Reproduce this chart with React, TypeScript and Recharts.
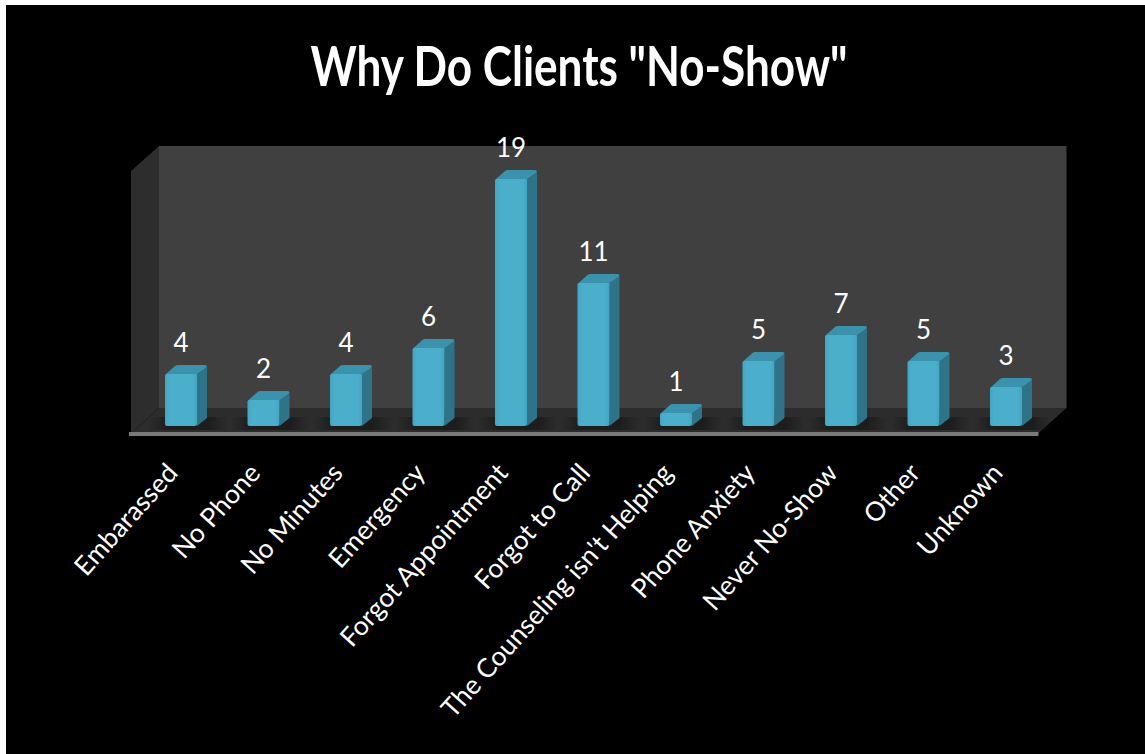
import { Bar, BarChart, LabelList, XAxis, YAxis, usePlotArea } from "recharts";

const reasons = [
  "Embarassed",
  "No Phone",
  "No Minutes",
  "Emergency",
  "Forgot Appointment",
  "Forgot to Call",
  "The Counseling isn't Helping",
  "Phone Anxiety",
  "Never No-Show",
  "Other",
  "Unknown",
];
const clientCounts = [4, 2, 4, 6, 19, 11, 1, 5, 7, 5, 3];

const rows = reasons.map((reason, i) => ({ reason, count: clientCounts[i] }));

const WIDTH = 1145;
const HEIGHT = 754;
const FONT = "Lato, 'Open Sans', sans-serif";

// Perspective shift of the box walls and of each bar's side face.
const WALL_DX = 28;
const WALL_DY = 25;
const BAR_DX = 10;
const BAR_DY = 9;

/** Back wall, side wall, floor and front ledge, placed relative to the plot area. */
function ChartBox() {
  const plot = usePlotArea();
  if (!plot) return null;
  const left = plot.x - 9;
  const right = plot.x + plot.width - 9;
  const top = plot.y + 5;
  const bottom = plot.y + plot.height + 7;
  return (
    <g>
      <polygon
        points={`${left + WALL_DX},${top - WALL_DY} ${right + WALL_DX},${top - WALL_DY} ${right + WALL_DX},${bottom - WALL_DY} ${left + WALL_DX},${bottom - WALL_DY}`}
        fill="#404040"
      />
      <polygon
        points={`${left},${top} ${left + WALL_DX},${top - WALL_DY} ${left + WALL_DX},${bottom - WALL_DY} ${left},${bottom}`}
        fill="#2d2d2d"
      />
      <polygon
        points={`${left},${bottom} ${left + WALL_DX},${bottom - WALL_DY} ${right + WALL_DX},${bottom - WALL_DY} ${right},${bottom}`}
        fill="#2c2c2c"
      />
      <rect x={left - 2} y={bottom - 1} width={right - left + 2} height={4} fill="#7a7a7a" />
    </g>
  );
}

function Bar3D({ x, y, width, height }: any) {
  const bottom = y + height;
  const right = x + width;
  return (
    <g>
      <rect x={x - 16} y={bottom - 9} width={width + 46} height={13} fill="url(#floorShadow)" />
      <path
        d={`M${x + 1},${y} L${x + BAR_DX},${y - BAR_DY + 1} Q${x + BAR_DX + 1},${y - BAR_DY} ${x + BAR_DX + 3},${y - BAR_DY} H${right + BAR_DX - 2} Q${right + BAR_DX},${y - BAR_DY} ${right + BAR_DX},${y - BAR_DY + 2} L${right},${y + 2} H${x} Z`}
        fill="#3a92ac"
      />
      <path
        d={`M${right},${y} L${right + BAR_DX},${y - BAR_DY + 2} V${bottom - BAR_DY + 1} L${right},${bottom} Z`}
        fill="#2f7388"
      />
      <rect x={x} y={y} width={width} height={height} rx={2} fill="url(#barFront)" />
    </g>
  );
}

function ReasonTick({ x, y, payload }: any) {
  return (
    <text
      transform={`translate(${x - 2},${y}) rotate(-48)`}
      textAnchor="end"
      fill="#ffffff"
      fontFamily={FONT}
      fontSize={26.5}
    >
      {payload.value}
    </text>
  );
}

export default function App() {
  return (
    <div style={{ position: "fixed", left: 0, top: 0, width: WIDTH, height: HEIGHT, background: "#fff", overflow: "hidden" }}>
      <div style={{ position: "absolute", left: 6, top: 5, right: 0, bottom: 0, background: "#000" }} />
      <div style={{ position: "absolute", left: 0, top: 0 }}>
        <BarChart
          width={WIDTH}
          height={HEIGHT}
          data={rows}
          barSize={32}
          margin={{ top: 166, right: 97.5, bottom: 0, left: 140 }}
        >
          <defs>
            <linearGradient id="barFront" x1="0" y1="0" x2="1" y2="0">
              <stop offset="0%" stopColor="#44a5c1" />
              <stop offset="15%" stopColor="#4bafcc" />
              <stop offset="85%" stopColor="#4bafcc" />
              <stop offset="100%" stopColor="#44a5c1" />
            </linearGradient>
            <linearGradient id="floorShadow" x1="0" y1="0" x2="1" y2="0">
              <stop offset="0%" stopColor="#1b1b1b" stopOpacity={0} />
              <stop offset="25%" stopColor="#1b1b1b" stopOpacity={0.9} />
              <stop offset="75%" stopColor="#1b1b1b" stopOpacity={0.9} />
              <stop offset="100%" stopColor="#1b1b1b" stopOpacity={0} />
            </linearGradient>
          </defs>
          <text
            x={579}
            y={86}
            textAnchor="middle"
            fill="#ffffff"
            fontFamily={FONT}
            fontWeight={700}
            fontSize={56}
            textLength={537}
            lengthAdjust="spacingAndGlyphs"
          >
            Why Do Clients "No-Show"
          </text>
          <ChartBox />
          <XAxis
            dataKey="reason"
            interval={0}
            height={328}
            axisLine={false}
            tickLine={false}
            tickMargin={42}
            tick={<ReasonTick />}
          />
          <YAxis hide domain={[0, 20]} />
          <Bar dataKey="count" shape={<Bar3D />} isAnimationActive={false}>
            <LabelList
              dataKey="count"
              position="top"
              offset={22}
              fill="#ffffff"
              fontFamily={FONT}
              fontSize={26}
            />
          </Bar>
        </BarChart>
      </div>
    </div>
  );
}
